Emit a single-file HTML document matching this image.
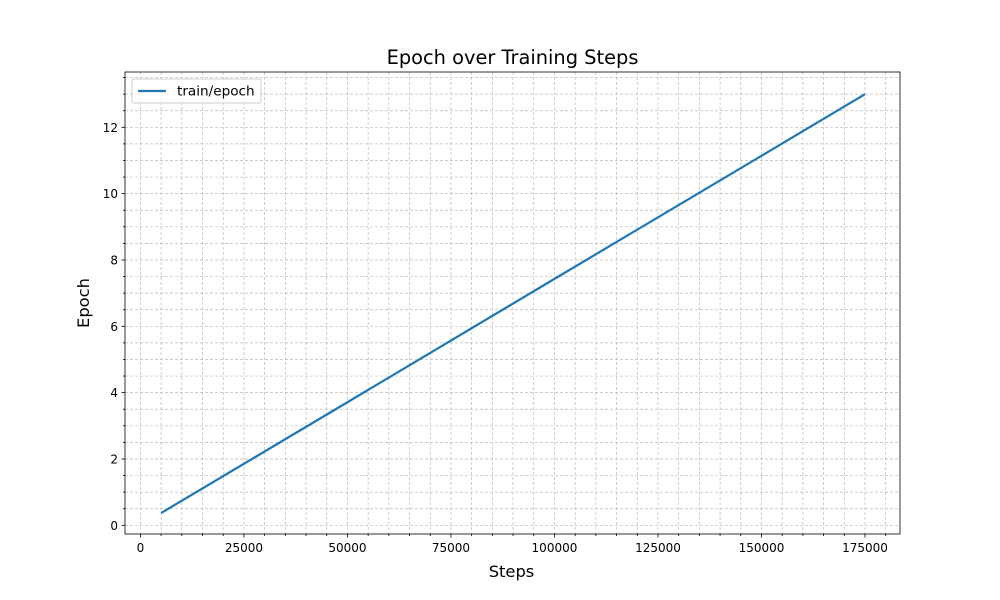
<!DOCTYPE html>
<html><head><meta charset="utf-8"><style>body{margin:0;background:#fff}svg{display:block;font-family:"DejaVu Sans","Liberation Sans",sans-serif}</style></head>
<body>
<svg id="chart" width="1000" height="600" xmlns="http://www.w3.org/2000/svg"></svg>
<script>
const steps = [5000, 50000, 100000, 150000, 175000];
const epochs = [0.37, 3.71, 7.43, 11.14, 13.0];
const xTicks = [0, 25000, 50000, 75000, 100000, 125000, 150000, 175000];
const yTicks = [0, 2, 4, 6, 8, 10, 12];
const L=125,R=900,T=72,B=534;
const x0=140.4,xPer=(865-140.4)/175000;
const y0=525.3,yPer=(525.3-127.3)/12;
const X=v=>x0+v*xPer, Y=v=>y0-v*yPer;
const svg=document.getElementById('chart');
const NS='http://www.w3.org/2000/svg';
function mk(t,a,txt){const e=document.createElementNS(NS,t);for(const k in a)e.setAttribute(k,a[k]);if(txt!==undefined)e.textContent=txt;svg.appendChild(e);return e;}
for(let v=-5000;v<=185000;v+=5000){const px=X(v);if(px<L||px>R)continue;
 const g=mk('line',{x1:px,x2:px,y1:T,y2:B,stroke:'#bbb','stroke-width':0.7,'stroke-dasharray':'3,2'});
 
 const t=mk('line',{x1:px,x2:px,y1:B,y2:B+(v%25000===0?3.5:2),stroke:'#000','stroke-width':0.8});
 }
for(let v=-0.5;v<=14;v+=0.5){const py=Y(v);if(py<T||py>B)continue;
 const g=mk('line',{x1:L,x2:R,y1:py,y2:py,stroke:'#bbb','stroke-width':0.7,'stroke-dasharray':'3,2'});
 
 const t=mk('line',{x1:L,x2:L-(v%2===0?3.5:2),y1:py,y2:py,stroke:'#000','stroke-width':0.8});
 }
xTicks.forEach(v=>{const e=mk('text',{x:X(v),y:B+18,'font-size':12,'text-anchor':'middle'},String(v));
 });
yTicks.forEach(v=>{const e=mk('text',{x:L-7,y:Y(v)+4.5,'font-size':12,'text-anchor':'end'},String(v));
 });
const line=mk('polyline',{points:steps.map((s,i)=>X(s)+','+Y(epochs[i])).join(' '),fill:'none',stroke:'#1f77b4','stroke-width':2.2});

const fr=mk('rect',{x:L,y:T,width:R-L,height:B-T,fill:'none',stroke:'#000','stroke-width':0.8});

const ti=mk('text',{x:512.5,y:64,'font-size':19.4,'text-anchor':'middle'},'Epoch over Training Steps');

const xl=mk('text',{x:511.5,y:577,'font-size':16.3,'text-anchor':'middle'},'Steps');

const yl=mk('text',{x:89,y:303,'font-size':16.3,'text-anchor':'middle',transform:'rotate(-90 89 303)'},'Epoch');

const lg=mk('rect',{x:132,y:79,width:129,height:24,fill:'#fff','fill-opacity':0.8,stroke:'#ccc','stroke-width':1,rx:2});

const ll=mk('line',{x1:138,x2:166,y1:91,y2:91,stroke:'#1f77b4','stroke-width':2.2});

const lt=mk('text',{x:177,y:95.5,'font-size':13.6},'train/epoch');

</script>
</body></html>
